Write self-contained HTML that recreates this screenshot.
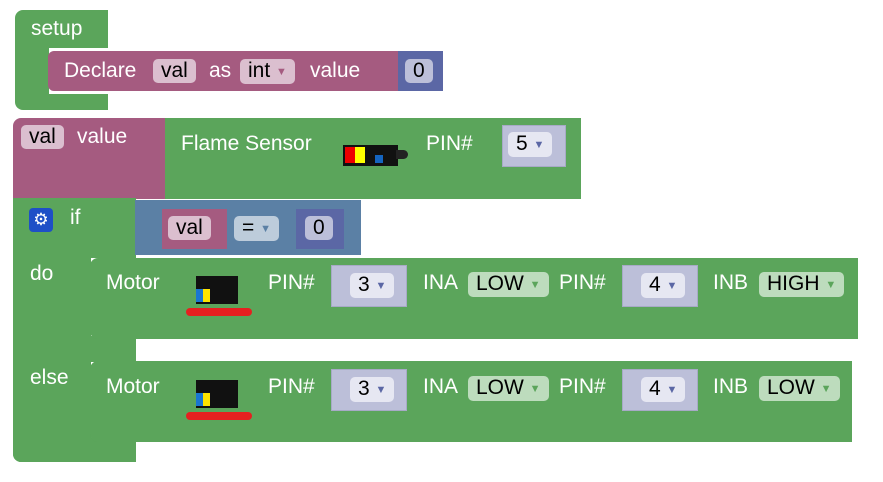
<!DOCTYPE html>
<html><head><meta charset="utf-8"><style>
body{margin:0;width:883px;height:482px;background:#fff;position:relative;overflow:hidden;font-family:"Liberation Sans",sans-serif;}
div{position:absolute;box-sizing:border-box;}
.g{background:#5ba55b;}
.m{background:#a55b80;}
.t{color:#fff;font-size:21px;line-height:24px;white-space:nowrap;}
.f{border-radius:5px;font-size:21px;line-height:24px;color:#000;padding:0 8px;white-space:nowrap;}
.fm{background:#dbbfcf;}
.fg{background:#bddcbd;}
.fp{background:#e6e7f2;}
.pv{background:#bcbfd9;border:1px solid #a7aac6;}
.ar{font-size:11px;vertical-align:2px;}
.sens{background:#111;}
</style></head><body>
<div class="g" style="left:15px;top:10px;width:93px;height:38px;border-radius:8px 0 0 0"></div>
<div class="g" style="left:15px;top:46px;width:34px;height:52px"></div>
<div class="g" style="left:15px;top:94px;width:93px;height:16px;border-radius:0 0 0 8px"></div>
<div class="t" style="left:31px;top:17px">setup</div>
<div class="m" style="left:48px;top:51px;width:352px;height:40px;border-radius:6px 0 0 6px"></div>
<div class="t" style="left:64px;top:59px">Declare</div>
<div class="f fm" style="left:153px;top:59px">val</div>
<div class="t" style="left:209px;top:59px">as</div>
<div class="f fm" style="left:240px;top:59px">int <span class="ar" style="color:#a55b80">▼</span></div>
<div class="t" style="left:310px;top:59px">value</div>
<div style="left:398px;top:51px;width:45px;height:40px;background:#5b67a5"></div>
<div class="f" style="left:405px;top:59px;background:#bcbfd9;width:28px">0</div>
<div class="m" style="left:13px;top:118px;width:153px;height:81px;border-radius:8px 0 0 0"></div>
<div class="f fm" style="left:21px;top:125px">val</div>
<div class="t" style="left:77px;top:125px">value</div>
<div class="g" style="left:165px;top:118px;width:416px;height:81px"></div>
<div class="t" style="left:181px;top:132px">Flame Sensor</div>
<div class="sens" style="left:343px;top:145px;width:55px;height:21px"></div>
<div style="left:345px;top:147px;width:20px;height:16px;background:linear-gradient(90deg,#e00 50%,#ff0 50%)"></div>
<div style="left:375px;top:155px;width:8px;height:8px;background:#1565c0"></div>
<div style="left:396px;top:150px;width:12px;height:9px;background:#222;border-radius:0 5px 5px 0"></div>
<div class="t" style="left:426px;top:132px">PIN#</div>
<div class="pv" style="left:502px;top:125px;width:64px;height:42px"></div>
<div class="f fp" style="left:508px;top:132px">5 <span class="ar" style="color:#5b67a5">▼</span></div>
<div class="g" style="left:13px;top:198px;width:123px;height:60px"></div>
<div class="g" style="left:13px;top:250px;width:78px;height:212px;border-radius:0 0 0 8px"></div>
<div class="g" style="left:13px;top:336px;width:123px;height:26px"></div>
<div class="g" style="left:13px;top:438px;width:123px;height:24px;border-radius:0 0 0 8px"></div>
<div style="left:29px;top:208px;width:24px;height:24px;background:#1e4fc7;border-radius:4px;color:#fff;font-size:17px;line-height:24px;text-align:center">⚙</div>
<div class="t" style="left:70px;top:206px">if</div>
<div class="t" style="left:30px;top:262px">do</div>
<div class="t" style="left:30px;top:366px">else</div>
<div style="left:135px;top:200px;width:226px;height:55px;background:#5b80a5"></div>
<div class="m" style="left:162px;top:209px;width:65px;height:40px"></div>
<div class="f fm" style="left:168px;top:216px">val</div>
<div class="f" style="left:234px;top:216px;background:#bdccdb">= <span class="ar" style="color:#5b80a5">▼</span></div>
<div style="left:296px;top:209px;width:48px;height:40px;background:#5b67a5"></div>
<div class="f" style="left:305px;top:216px;background:#bcbfd9;width:28px">0</div>
<div class="g" style="left:90px;top:258px;width:768px;height:81px;border-radius:8px 0 0 8px"></div>
<div class="g" style="left:90px;top:361px;width:762px;height:81px;border-radius:8px 0 0 8px"></div>
<div class="t" style="left:106px;top:271px">Motor</div>
<div class="t" style="left:106px;top:375px">Motor</div>
<div class="sens" style="left:196px;top:276px;width:42px;height:28px"></div>
<div style="left:196px;top:289px;width:14px;height:13px;background:linear-gradient(90deg,#1976d2 50%,#fde400 50%)"></div>
<div style="left:186px;top:308px;width:66px;height:8px;background:#e62020;border-radius:4px"></div>
<div class="sens" style="left:196px;top:380px;width:42px;height:28px"></div>
<div style="left:196px;top:393px;width:14px;height:13px;background:linear-gradient(90deg,#1976d2 50%,#fde400 50%)"></div>
<div style="left:186px;top:412px;width:66px;height:8px;background:#e62020;border-radius:4px"></div>
<div class="t" style="left:268px;top:271px">PIN#</div>
<div class="t" style="left:268px;top:375px">PIN#</div>
<div class="pv" style="left:331px;top:265px;width:76px;height:42px"></div>
<div class="f fp" style="left:350px;top:273px">3 <span class="ar" style="color:#5b67a5">▼</span></div>
<div class="pv" style="left:331px;top:369px;width:76px;height:42px"></div>
<div class="f fp" style="left:350px;top:377px">3 <span class="ar" style="color:#5b67a5">▼</span></div>
<div class="t" style="left:423px;top:271px">INA</div>
<div class="t" style="left:423px;top:375px">INA</div>
<div class="f fg" style="left:468px;top:272px">LOW <span class="ar" style="color:#5ba55b">▼</span></div>
<div class="f fg" style="left:468px;top:376px">LOW <span class="ar" style="color:#5ba55b">▼</span></div>
<div class="t" style="left:559px;top:271px">PIN#</div>
<div class="t" style="left:559px;top:375px">PIN#</div>
<div class="pv" style="left:622px;top:265px;width:76px;height:42px"></div>
<div class="f fp" style="left:641px;top:273px">4 <span class="ar" style="color:#5b67a5">▼</span></div>
<div class="pv" style="left:622px;top:369px;width:76px;height:42px"></div>
<div class="f fp" style="left:641px;top:377px">4 <span class="ar" style="color:#5b67a5">▼</span></div>
<div class="t" style="left:713px;top:271px">INB</div>
<div class="t" style="left:713px;top:375px">INB</div>
<div class="f fg" style="left:759px;top:272px">HIGH <span class="ar" style="color:#5ba55b">▼</span></div>
<div class="f fg" style="left:759px;top:376px">LOW <span class="ar" style="color:#5ba55b">▼</span></div>
</body></html>
